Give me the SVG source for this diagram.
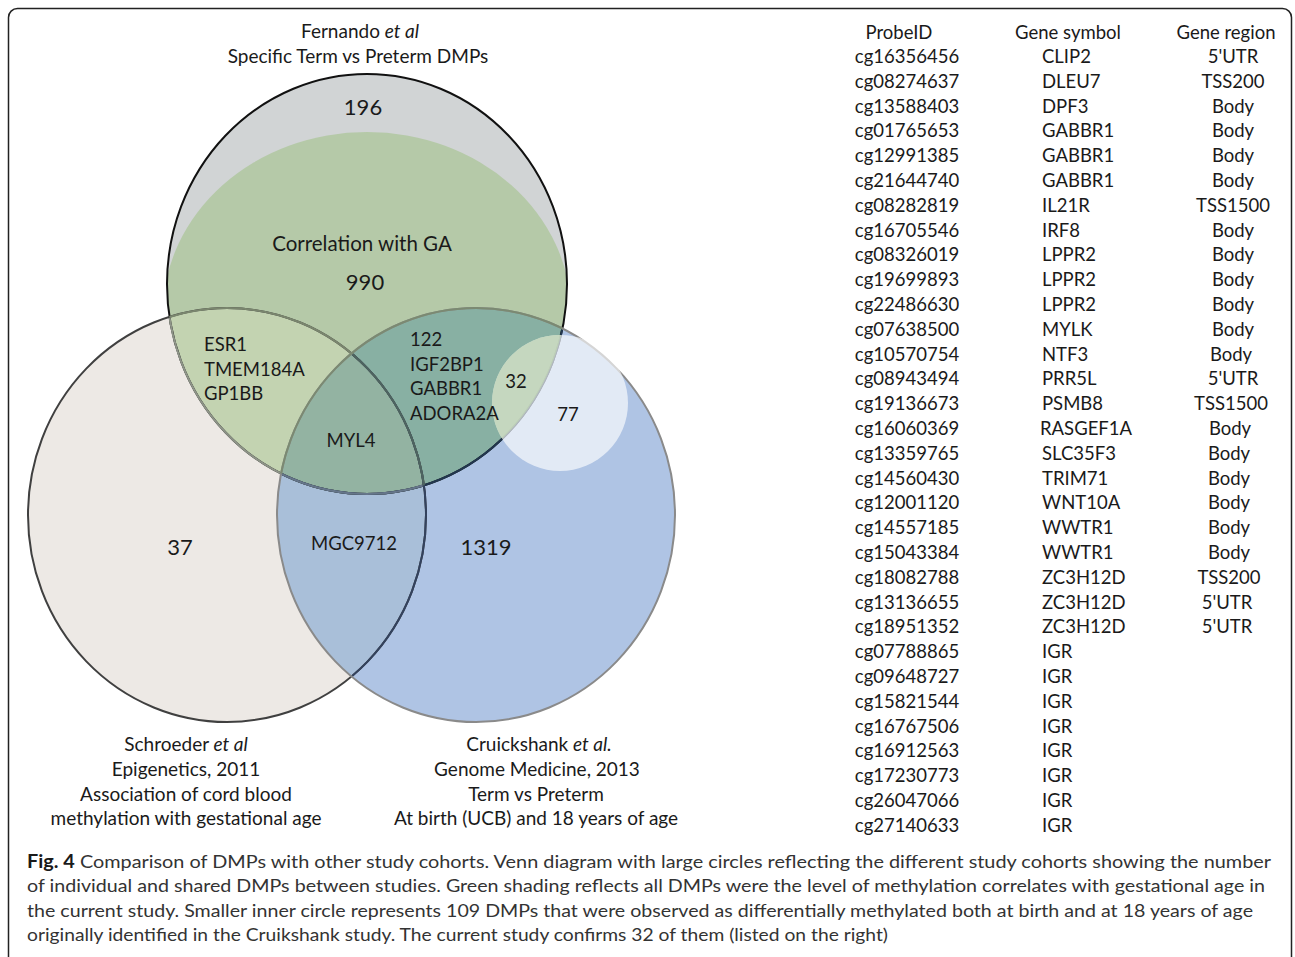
<svg xmlns="http://www.w3.org/2000/svg" width="1295" height="957" viewBox="0 0 1295 957">
<style>
text{font-family:Lato,"Liberation Sans",sans-serif;fill:#1a1a1a}
.v{font-size:19px;text-anchor:middle}
.n{font-size:22px;text-anchor:middle}
.g{font-size:18.5px}
.gm{font-size:18.5px;text-anchor:middle}
.tb{font-size:18.5px}
.tc{font-size:18.5px;text-anchor:middle}
.cap{font-size:18px;fill:#333}
.i{font-style:italic}
.nf{fill:none}
</style>
<defs>
<ellipse id="eT" cx="367" cy="284" rx="200" ry="210"/>
<ellipse id="eG" cx="367" cy="313" rx="204" ry="181"/>
<ellipse id="eL" cx="227" cy="515" rx="199" ry="207"/>
<ellipse id="eR" cx="476" cy="515" rx="199" ry="207"/>
<circle id="eC" cx="560" cy="403" r="68"/>
<clipPath id="cT"><use href="#eT"/></clipPath>
<clipPath id="cL"><use href="#eL"/></clipPath>
<clipPath id="cR"><use href="#eR"/></clipPath>
</defs>
<rect x="8.5" y="8.5" width="1283" height="965" rx="9" fill="#fff" stroke="#222" stroke-width="1.5"/>

<g id="venn">
<g id="schroeder"><use href="#eL" fill="#ede9e5"/></g>
<g id="cruickshank"><use href="#eR" fill="#afc4e4"/></g>
<g id="overlap-schroeder-cruickshank" clip-path="url(#cL)"><use href="#eR" fill="#a9bfd9"/></g>
<g id="fernando">
<use href="#eT" fill="#d1d4d5"/>
<g clip-path="url(#cT)"><use href="#eG" fill="#b5c9a8"/></g>
</g>
<g id="overlap-fernando-schroeder" clip-path="url(#cT)"><use href="#eL" fill="#c3d3b1"/></g>
<g id="overlap-fernando-cruickshank" clip-path="url(#cT)"><use href="#eR" fill="#88b0a3"/></g>
<g id="overlap-all" clip-path="url(#cT)"><g clip-path="url(#cL)"><use href="#eR" fill="#93b3a2"/></g></g>

<g id="outlines" class="nf" stroke-width="2">
<use href="#eT" stroke="#111"/>
<g clip-path="url(#cL)"><use href="#eT" stroke="#8e9488"/></g>
<g clip-path="url(#cR)"><use href="#eT" stroke="#22374f"/></g>
<g clip-path="url(#cL)"><g clip-path="url(#cR)"><use href="#eT" stroke="#66768a"/></g></g>
<use href="#eL" stroke="#404040"/>
<g clip-path="url(#cT)"><use href="#eL" stroke="#7a866e"/></g>
<g clip-path="url(#cR)"><use href="#eL" stroke="#33425e"/></g>
<g clip-path="url(#cT)"><g clip-path="url(#cR)"><use href="#eL" stroke="#4e6560"/></g></g>
<use href="#eR" stroke="#8a8a8a"/>
<g clip-path="url(#cT)"><use href="#eR" stroke="#7b8a72"/></g>
</g>

<g id="inner-circle">
<use href="#eC" fill="#fff" fill-opacity="0.64"/>
<g clip-path="url(#cT)"><use href="#eC" fill="#c0d5b6" fill-opacity="0.8"/></g>
</g>
</g>

<g id="venn-labels">
<text class="v" x="360" y="38">Fernando <tspan class="i">et al</tspan></text>
<text class="v" x="358" y="63">Specific Term vs Preterm DMPs</text>
<text class="n" x="363" y="115">196</text>
<text class="v" x="362" y="251" style="font-size:20.5px">Correlation with GA</text>
<text class="n" x="365" y="290">990</text>
<text class="g" x="204" y="351">ESR1</text>
<text class="g" x="204" y="376">TMEM184A</text>
<text class="g" x="204" y="400">GP1BB</text>
<text class="g" x="410" y="346">122</text>
<text class="g" x="410" y="371">IGF2BP1</text>
<text class="g" x="410" y="395">GABBR1</text>
<text class="g" x="410" y="420">ADORA2A</text>
<text class="gm" x="516" y="388">32</text>
<text class="gm" x="568" y="421">77</text>
<text class="gm" x="351" y="447">MYL4</text>
<text class="gm" x="354" y="550">MGC9712</text>
<text class="n" x="180" y="555">37</text>
<text class="n" x="486" y="555">1319</text>
<text class="v" x="186" y="751">Schroeder <tspan class="i">et al</tspan></text>
<text class="v" x="186" y="776">Epigenetics, 2011</text>
<text class="v" x="186" y="801">Association of cord blood</text>
<text class="v" x="186" y="825">methylation with gestational age</text>
<text class="v" x="539" y="751">Cruickshank <tspan class="i">et al.</tspan></text>
<text class="v" x="537" y="776">Genome Medicine, 2013</text>
<text class="v" x="536" y="801">Term vs Preterm</text>
<text class="v" x="536" y="825">At birth (UCB) and 18 years of age</text>
</g>

<g id="table">
<text class="tc" x="899" y="38.5">ProbeID</text>
<text class="tc" x="1068" y="38.5">Gene symbol</text>
<text class="tc" x="1226" y="38.5">Gene region</text>
<g id="probe-col">
<text class="tc" x="907" y="63">cg16356456</text>
<text class="tc" x="907" y="87.8">cg08274637</text>
<text class="tc" x="907" y="112.6">cg13588403</text>
<text class="tc" x="907" y="137.4">cg01765653</text>
<text class="tc" x="907" y="162.2">cg12991385</text>
<text class="tc" x="907" y="187">cg21644740</text>
<text class="tc" x="907" y="211.8">cg08282819</text>
<text class="tc" x="907" y="236.6">cg16705546</text>
<text class="tc" x="907" y="261.4">cg08326019</text>
<text class="tc" x="907" y="286.2">cg19699893</text>
<text class="tc" x="907" y="311">cg22486630</text>
<text class="tc" x="907" y="335.8">cg07638500</text>
<text class="tc" x="907" y="360.6">cg10570754</text>
<text class="tc" x="907" y="385.4">cg08943494</text>
<text class="tc" x="907" y="410.2">cg19136673</text>
<text class="tc" x="907" y="435">cg16060369</text>
<text class="tc" x="907" y="459.8">cg13359765</text>
<text class="tc" x="907" y="484.6">cg14560430</text>
<text class="tc" x="907" y="509.4">cg12001120</text>
<text class="tc" x="907" y="534.2">cg14557185</text>
<text class="tc" x="907" y="559">cg15043384</text>
<text class="tc" x="907" y="583.8">cg18082788</text>
<text class="tc" x="907" y="608.6">cg13136655</text>
<text class="tc" x="907" y="633.4">cg18951352</text>
<text class="tc" x="907" y="658.2">cg07788865</text>
<text class="tc" x="907" y="683">cg09648727</text>
<text class="tc" x="907" y="707.8">cg15821544</text>
<text class="tc" x="907" y="732.6">cg16767506</text>
<text class="tc" x="907" y="757.4">cg16912563</text>
<text class="tc" x="907" y="782.2">cg17230773</text>
<text class="tc" x="907" y="807">cg26047066</text>
<text class="tc" x="907" y="831.8">cg27140633</text>
</g>
<g id="gene-col">
<text class="tb" x="1042" y="63">CLIP2</text>
<text class="tb" x="1042" y="87.8">DLEU7</text>
<text class="tb" x="1042" y="112.6">DPF3</text>
<text class="tb" x="1042" y="137.4">GABBR1</text>
<text class="tb" x="1042" y="162.2">GABBR1</text>
<text class="tb" x="1042" y="187">GABBR1</text>
<text class="tb" x="1042" y="211.8">IL21R</text>
<text class="tb" x="1042" y="236.6">IRF8</text>
<text class="tb" x="1042" y="261.4">LPPR2</text>
<text class="tb" x="1042" y="286.2">LPPR2</text>
<text class="tb" x="1042" y="311">LPPR2</text>
<text class="tb" x="1042" y="335.8">MYLK</text>
<text class="tb" x="1042" y="360.6">NTF3</text>
<text class="tb" x="1042" y="385.4">PRR5L</text>
<text class="tb" x="1042" y="410.2">PSMB8</text>
<text class="tb" x="1040" y="435">RASGEF1A</text>
<text class="tb" x="1042" y="459.8">SLC35F3</text>
<text class="tb" x="1042" y="484.6">TRIM71</text>
<text class="tb" x="1042" y="509.4">WNT10A</text>
<text class="tb" x="1042" y="534.2">WWTR1</text>
<text class="tb" x="1042" y="559">WWTR1</text>
<text class="tb" x="1042" y="583.8">ZC3H12D</text>
<text class="tb" x="1042" y="608.6">ZC3H12D</text>
<text class="tb" x="1042" y="633.4">ZC3H12D</text>
<text class="tb" x="1042" y="658.2">IGR</text>
<text class="tb" x="1042" y="683">IGR</text>
<text class="tb" x="1042" y="707.8">IGR</text>
<text class="tb" x="1042" y="732.6">IGR</text>
<text class="tb" x="1042" y="757.4">IGR</text>
<text class="tb" x="1042" y="782.2">IGR</text>
<text class="tb" x="1042" y="807">IGR</text>
<text class="tb" x="1042" y="831.8">IGR</text>
</g>
<g id="region-col">
<text class="tc" x="1233" y="63">5'UTR</text>
<text class="tc" x="1233" y="87.8">TSS200</text>
<text class="tc" x="1233" y="112.6">Body</text>
<text class="tc" x="1233" y="137.4">Body</text>
<text class="tc" x="1233" y="162.2">Body</text>
<text class="tc" x="1233" y="187">Body</text>
<text class="tc" x="1233" y="211.8">TSS1500</text>
<text class="tc" x="1233" y="236.6">Body</text>
<text class="tc" x="1233" y="261.4">Body</text>
<text class="tc" x="1233" y="286.2">Body</text>
<text class="tc" x="1233" y="311">Body</text>
<text class="tc" x="1233" y="335.8">Body</text>
<text class="tc" x="1231" y="360.6">Body</text>
<text class="tc" x="1233" y="385.4">5'UTR</text>
<text class="tc" x="1231" y="410.2">TSS1500</text>
<text class="tc" x="1230" y="435">Body</text>
<text class="tc" x="1229" y="459.8">Body</text>
<text class="tc" x="1229" y="484.6">Body</text>
<text class="tc" x="1229" y="509.4">Body</text>
<text class="tc" x="1229" y="534.2">Body</text>
<text class="tc" x="1229" y="559">Body</text>
<text class="tc" x="1229" y="583.8">TSS200</text>
<text class="tc" x="1227" y="608.6">5'UTR</text>
<text class="tc" x="1227" y="633.4">5'UTR</text>
</g>
</g>

<g id="caption">
<text class="cap" x="27" y="868" textLength="1244" lengthAdjust="spacingAndGlyphs"><tspan style="font-weight:bold;fill:#1a1a1a">Fig. 4</tspan> Comparison of DMPs with other study cohorts. Venn diagram with large circles reflecting the different study cohorts showing the number</text>
<text class="cap" x="27" y="892" textLength="1238" lengthAdjust="spacingAndGlyphs">of individual and shared DMPs between studies. Green shading reflects all DMPs were the level of methylation correlates with gestational age in</text>
<text class="cap" x="27" y="917" textLength="1226" lengthAdjust="spacingAndGlyphs">the current study. Smaller inner circle represents 109 DMPs that were observed as differentially methylated both at birth and at 18 years of age</text>
<text class="cap" x="27" y="941" textLength="861" lengthAdjust="spacingAndGlyphs">originally identified in the Cruikshank study. The current study confirms 32 of them (listed on the right)</text>
</g>
</svg>
